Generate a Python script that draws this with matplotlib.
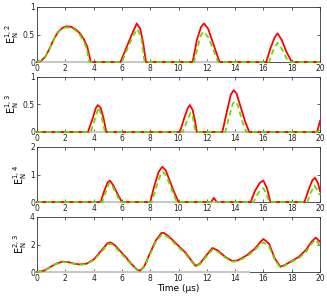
import numpy as np
import matplotlib
matplotlib.use('Agg')
from matplotlib import pyplot as plt

plt.rcParams['mathtext.fontset'] = 'dejavusans'

# E_N^{1,2}
t12_r = [0, 0.3, 0.6, 0.9, 1.2, 1.5, 1.8, 2.1, 2.4, 2.7, 3.0, 3.3, 3.55, 3.8, 5.9,
         6.3, 6.7, 7.05, 7.3, 7.5, 7.7, 11.0, 11.3, 11.6, 11.8, 12.1, 12.5, 12.9,
         16.2, 16.5, 16.8, 17.0, 17.3, 17.6, 18.0, 20]
e12_r = [0, 0.02, 0.1, 0.25, 0.42, 0.55, 0.62, 0.65, 0.64, 0.6, 0.53, 0.42, 0.28, 0, 0,
         0.25, 0.5, 0.7, 0.6, 0.35, 0, 0, 0.4, 0.64, 0.7, 0.6, 0.3, 0,
         0, 0.25, 0.45, 0.52, 0.4, 0.2, 0, 0]
t12_g = [0, 0.3, 0.6, 0.9, 1.2, 1.5, 1.8, 2.1, 2.4, 2.7, 3.0, 3.3, 3.5, 3.7, 6.0,
         6.4, 6.8, 7.1, 7.35, 7.6, 11.1, 11.4, 11.6, 11.8, 12.1, 12.5, 12.8,
         16.4, 16.7, 17.0, 17.3, 17.6, 17.8, 20]
e12_g = [0, 0.03, 0.1, 0.25, 0.41, 0.54, 0.61, 0.63, 0.62, 0.58, 0.5, 0.38, 0.25, 0, 0,
         0.25, 0.48, 0.6, 0.45, 0, 0, 0.32, 0.5, 0.55, 0.45, 0.2, 0,
         0, 0.22, 0.35, 0.24, 0.08, 0, 0]

# E_N^{1,3}
t13_r = [0, 3.6, 3.9, 4.15, 4.3, 4.5, 4.7, 4.9, 10.1, 10.4, 10.65, 10.8, 11.0, 11.15, 11.3,
         13.1, 13.4, 13.7, 13.9, 14.1, 14.4, 14.7, 15.0, 19.8, 20]
e13_r = [0, 0, 0.22, 0.43, 0.49, 0.44, 0.25, 0, 0, 0.25, 0.43, 0.49, 0.4, 0.22, 0,
         0, 0.35, 0.68, 0.76, 0.7, 0.45, 0.2, 0, 0, 0.2]
t13_g = [0, 3.8, 4.05, 4.35, 4.55, 4.8, 10.3, 10.6, 10.85, 11.0, 11.2,
         13.3, 13.6, 13.85, 14.0, 14.2, 14.5, 14.8, 19.85, 20]
e13_g = [0, 0, 0.2, 0.45, 0.3, 0, 0, 0.2, 0.35, 0.28, 0,
         0, 0.3, 0.52, 0.56, 0.48, 0.2, 0, 0, 0.05]

# E_N^{1,4}
t14_r = [0, 4.5, 4.75, 5.0, 5.15, 5.4, 5.7, 6.0, 8.0, 8.3, 8.6, 8.85, 9.1, 9.4, 9.7, 10.0,
         12.3, 12.5, 12.7, 15.1, 15.4, 15.75, 16.0, 16.25, 16.5, 18.9, 19.2, 19.45, 19.65,
         19.85, 20]
e14_r = [0, 0, 0.4, 0.72, 0.78, 0.6, 0.28, 0, 0, 0.6, 1.1, 1.28, 1.15, 0.75, 0.35, 0,
         0, 0.15, 0, 0, 0.4, 0.7, 0.78, 0.5, 0, 0, 0.45, 0.78, 0.88, 0.7, 0.4]
t14_g = [0, 4.6, 4.85, 5.1, 5.3, 5.6, 5.9, 8.1, 8.4, 8.7, 8.9, 9.15, 9.45, 9.7, 9.9,
         15.3, 15.6, 15.85, 16.0, 16.2, 16.4, 19.1, 19.35, 19.6, 19.8, 20]
e14_g = [0, 0, 0.35, 0.7, 0.6, 0.3, 0, 0, 0.5, 0.95, 1.1, 0.95, 0.55, 0.2, 0,
         0, 0.3, 0.47, 0.5, 0.3, 0, 0, 0.35, 0.6, 0.45, 0.25]

# E_N^{2,3}
t23 = [0, 0.5, 1.0, 1.4, 1.8, 2.2, 2.6, 3.0, 3.5, 4.0, 4.5, 5.0, 5.2, 5.5, 5.9, 6.3, 6.7,
       7.1, 7.3, 7.6, 8.0, 8.4, 8.8, 8.95, 9.3, 9.9, 10.5, 10.9, 11.2, 11.5, 12.0, 12.4,
       12.8, 13.3, 13.8, 14.2, 14.8, 15.4, 15.8, 16.0, 16.4, 16.8, 17.2, 17.5, 18.0,
       18.5, 19.0, 19.4, 19.7, 20]
e23_r = [0, 0.1, 0.4, 0.62, 0.75, 0.72, 0.62, 0.55, 0.6, 0.9, 1.5, 2.1, 2.15, 1.95, 1.5,
         1.05, 0.55, 0.15, 0.1, 0.45, 1.4, 2.3, 2.85, 2.85, 2.6, 2.0, 1.4, 0.85, 0.45,
         0.6, 1.25, 1.75, 1.55, 1.1, 0.8, 0.85, 1.2, 1.7, 2.2, 2.4, 2.05, 1.0, 0.38, 0.5,
         0.8, 1.1, 1.6, 2.2, 2.5, 2.2]
e23_g = [0, 0.08, 0.38, 0.6, 0.72, 0.7, 0.6, 0.52, 0.57, 0.85, 1.4, 2.0, 2.05, 1.85,
         1.4, 0.95, 0.5, 0.12, 0.05, 0.4, 1.3, 2.2, 2.7, 2.72, 2.5, 1.9, 1.3, 0.78,
         0.4, 0.55, 1.15, 1.62, 1.45, 1.05, 0.75, 0.8, 1.1, 1.6, 2.05, 2.15, 1.85,
         0.9, 0.3, 0.45, 0.75, 1.0, 1.45, 2.05, 2.35, 1.9]

panels = [
    (t12_r, e12_r, t12_g, e12_g, r'E$_\mathrm{N}^{1,2}$', [0, 0.5, 1], ['0', '0.5', '1']),
    (t13_r, e13_r, t13_g, e13_g, r'E$_\mathrm{N}^{1,3}$', [0, 0.5, 1], ['0', '0.5', '1']),
    (t14_r, e14_r, t14_g, e14_g, r'E$_\mathrm{N}^{1,4}$', [0, 1, 2], ['0', '1', '2']),
    (t23, e23_r, t23, e23_g, r'E$_\mathrm{N}^{2,3}$', [0, 2, 4], ['0', '2', '4']),
]

fig = plt.figure(figsize=(3.27, 3.0), dpi=100)
lefts = 37 / 327
width = (320 - 37) / 327
tops = [7, 77, 147, 217]
h = 55

for i, (tr, er, tg, eg, lab, yt, ytl) in enumerate(panels):
    ax = fig.add_axes([lefts, 1 - (tops[i] + h) / 300, width, h / 300])
    ax.plot([0, 15], [0, 0], color='#c8c8c8', lw=1.5, zorder=3, clip_on=False)
    ax.plot(tr, er, color='#ff0000', lw=1.3, zorder=4, clip_on=False)
    ax.plot(tg, eg, color='#66dd00', lw=1.3, ls=(0, (3, 2)), zorder=5, clip_on=False)
    ax.set_xlim(0, 20)
    ax.set_ylim(yt[0], yt[-1])
    ax.set_xticks(np.arange(0, 21, 2))
    ax.set_yticks(yt)
    ax.set_yticklabels(ytl)
    ax.tick_params(direction='in', top=True, right=True, labelsize=5.5,
                   length=2, width=0.5, pad=1.5, colors='#222222')
    for s in ax.spines.values():
        s.set_linewidth(0.6)
        s.set_color('#333333')
    ax.set_ylabel(lab, fontsize=7, labelpad=1)
    if i == 3:
        ax.set_xlabel('Time (\u03bcs)', fontsize=6.5, labelpad=1)

plt.savefig('out.png', dpi=100)
